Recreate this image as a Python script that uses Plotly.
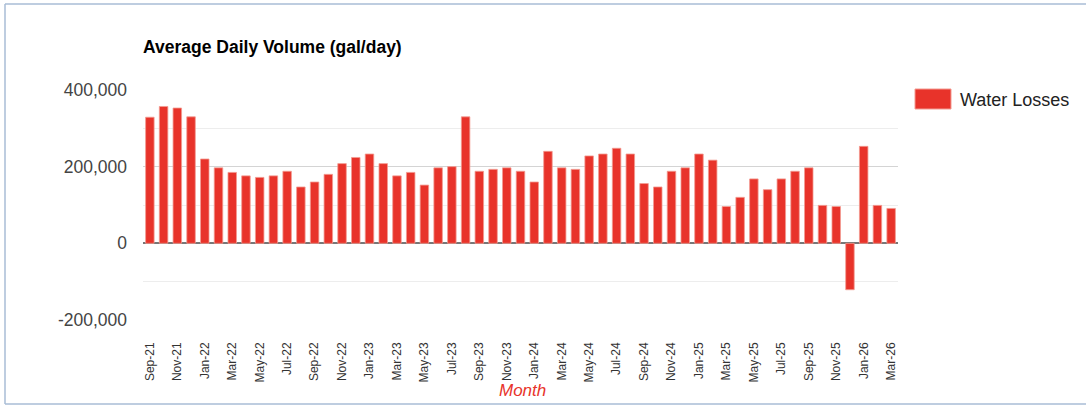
import plotly.graph_objects as go

months = [
    "Sep-21", "Oct-21", "Nov-21", "Dec-21",
    "Jan-22", "Feb-22", "Mar-22", "Apr-22", "May-22", "Jun-22", "Jul-22", "Aug-22", "Sep-22", "Oct-22", "Nov-22", "Dec-22",
    "Jan-23", "Feb-23", "Mar-23", "Apr-23", "May-23", "Jun-23", "Jul-23", "Aug-23", "Sep-23", "Oct-23", "Nov-23", "Dec-23",
    "Jan-24", "Feb-24", "Mar-24", "Apr-24", "May-24", "Jun-24", "Jul-24", "Aug-24", "Sep-24", "Oct-24", "Nov-24", "Dec-24",
    "Jan-25", "Feb-25", "Mar-25", "Apr-25", "May-25", "Jun-25", "Jul-25", "Aug-25", "Sep-25", "Oct-25", "Nov-25", "Dec-25",
    "Jan-26", "Feb-26", "Mar-26",
]

water_losses = [
    329000, 357000, 353000, 330000,
    220000, 197000, 185000, 176000, 172000, 176000, 188000, 147000, 160000, 180000, 208000, 224000,
    233000, 208000, 176000, 185000, 152000, 197000, 200000, 330000, 188000, 193000, 197000, 188000,
    160000, 240000, 197000, 193000, 228000, 233000, 248000, 233000, 156000, 147000, 188000, 197000,
    233000, 217000, 96000, 120000, 168000, 140000, 168000, 188000, 197000, 99000, 96000, -121000,
    253000, 99000, 91000,
]

tick_labels = months[::2]

y_ticks = [-200000, 0, 200000, 400000]
y_tick_text = ["-200,000", "0", "200,000", "400,000"]

series_name = "Water Losses"
bar_color = "#e8332a"

fig = go.Figure()
fig.add_trace(go.Bar(
    x=months,
    y=water_losses,
    name=series_name,
    marker=dict(color=bar_color, line=dict(color="#f39a90", width=0.8)),
    showlegend=False,
))

# plot area in pixels: x 143..898, y 90..320
L, R, T, B = 143, 898, 90, 320
W, H = 1086, 406
pw, ph = R - L, B - T

def px(x):
    return (x - L) / pw

def py(y):
    return (B - y) / ph

border = dict(color="#a9bcd6", width=1.5)

fig.update_layout(
    width=W, height=H,
    margin=dict(l=L, r=W - R, t=T, b=H - B),
    paper_bgcolor="white",
    plot_bgcolor="white",
    bargap=0.38,
    font=dict(family="Liberation Sans, Arial, sans-serif", color="#444"),
    title=dict(
        text="<b>Average Daily Volume (gal/day)</b>",
        x=px(143), xref="paper", xanchor="left",
        y=1 - 47 / H, yref="container", yanchor="middle",
        font=dict(size=17.5, color="#000"),
    ),
    xaxis=dict(
        tickmode="array",
        tickvals=tick_labels,
        ticktext=tick_labels,
        tickangle=-90,
        tickfont=dict(size=12, color="#333"),
        showgrid=False,
        showline=False,
        ticks="",
        ticklabelstandoff=19,
    ),
    yaxis=dict(
        range=[-200000, 400000],
        tickmode="array",
        tickvals=y_ticks,
        ticktext=y_tick_text,
        tickfont=dict(size=17.5, color="#444"),
        showgrid=True,
        gridcolor="#d4d4d4",
        gridwidth=1,
        minor=dict(dtick=100000, showgrid=True, gridcolor="#ededed", gridwidth=1),
        zeroline=True,
        zerolinecolor="#777",
        zerolinewidth=2.2,
        showline=False,
        ticks="",
        ticklabelstandoff=15,
    ),
    shapes=[
        dict(type="line", xref="paper", yref="paper",
             x0=px(5), x1=px(1086), y0=py(4), y1=py(4), line=border),
        dict(type="line", xref="paper", yref="paper",
             x0=px(5), x1=px(1086), y0=py(404), y1=py(404), line=border),
        dict(type="line", xref="paper", yref="paper",
             x0=px(5), x1=px(5), y0=py(404), y1=py(4), line=border),
        dict(type="rect", xref="paper", yref="paper",
             x0=px(915), x1=px(951), y0=py(109), y1=py(89),
             line=dict(color="#f39a90", width=1), fillcolor=bar_color),
    ],
    annotations=[
        dict(text=series_name, xref="paper", yref="paper",
             x=px(958), y=py(100), xanchor="left", yanchor="middle",
             showarrow=False, font=dict(size=18, color="#222")),
        dict(text="<i>Month</i>", xref="paper", yref="paper",
             x=px(522), y=py(390), xanchor="center", yanchor="middle",
             showarrow=False, font=dict(size=17, color="#e8332a")),
    ],
)

fig.write_html(
    "out.html",
    config={"displayModeBar": False},
    post_script="document.body.style.margin='0';document.body.style.padding='0';",
)
